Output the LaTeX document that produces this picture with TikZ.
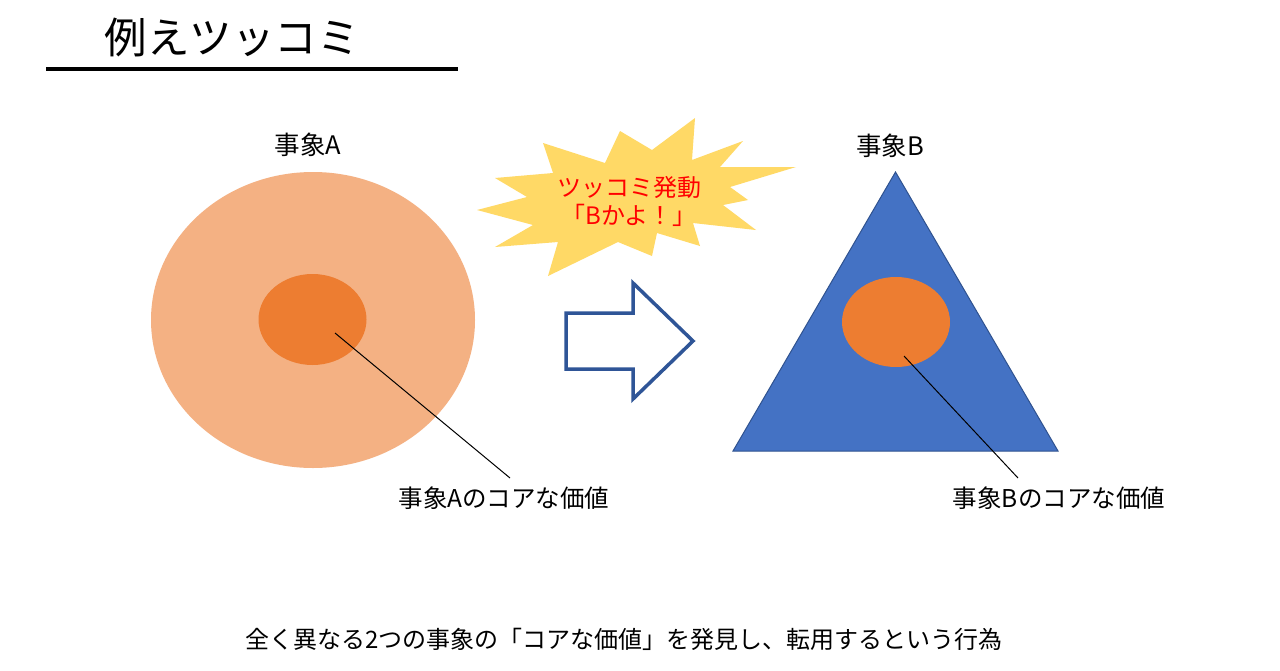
\documentclass[tikz,border=0pt]{standalone}
\usepackage{fontspec}
\setmainfont{Noto Sans CJK JP}
\usetikzlibrary{shapes.geometric}
\definecolor{outerA}{HTML}{F4B183}
\definecolor{core}{HTML}{ED7D31}
\definecolor{triB}{HTML}{4472C4}
\definecolor{triEdge}{HTML}{2F528F}
\definecolor{arrowEdge}{HTML}{2F5597}
\definecolor{burst}{HTML}{FFD966}
\tikzset{
  blob/.style={ellipse, inner sep=0pt, draw=none},
  lbl/.style={font=\fontsize{24.5}{28}\selectfont, inner sep=0pt, text=black},
  leader/.style={draw=black, line width=1pt},
}
\begin{document}
\begin{tikzpicture}[x=1pt,y=-1pt]
\useasboundingbox (0,0) rectangle (1280,670);
\fill[white] (0,0) rectangle (1280,670);
% title
\node[font=\fontsize{42.5}{48}\selectfont, inner sep=0pt] (title) at (232,37) {例えツッコミ};
\draw[line width=4pt] (46,69) -- (458,69);
% event A
\node[blob, fill=outerA, minimum width=324pt, minimum height=296pt] (outerA) at (313,320) {};
\node[blob, fill=core, minimum width=108pt, minimum height=91pt] (coreA) at (312.5,319.5) {};
\node[lbl, font=\fontsize{25.5}{28}\selectfont] (nameA) at (308,145) {事象A};
\coordinate (pA) at (335,333);
\node[lbl] (valA) at (504,498) {事象Aのコアな価値};
\draw[leader] (pA) -- (510,478);
% event B
\fill[triB, draw=triEdge, line width=1pt] (895.5,172) coordinate (apex) -- (1058,451) -- (733,451) -- cycle;
\node[blob, fill=core, minimum width=108pt, minimum height=90pt] (coreB) at (896,322) {};
\node[lbl, font=\fontsize{25.5}{28}\selectfont] (nameB) at (890,146) {事象B};
\coordinate (pB) at (904,356);
\node[lbl] (valB) at (1059,498) {事象Bのコアな価値};
\draw[leader] (pB) -- (1018,478);
% arrow
\draw[arrowEdge, fill=white, line width=3.5pt, line join=miter]
  (566,313) -- (633,313) -- (633,283) -- (693,341) -- (633,399) -- (633,369) -- (566,369) -- cycle;
% starburst
\fill[burst] (543,143) -- (605,163) -- (620,131) -- (652,150) -- (695,118) -- (692,160)
  -- (743,141) -- (720,167) -- (796,167) -- (730,187) -- (748,200) -- (723,205)
  -- (756,230) -- (693,223) -- (700,246) -- (657,233) -- (652,256) -- (618,242)
  -- (548,276) -- (558,242) -- (495,247) -- (533,225) -- (477,210) -- (527,197)
  -- (495,178) -- (553,173) -- cycle;
\node[font=\fontsize{24}{28}\selectfont, text=red, align=center, inner sep=0pt] (burstText) at (629,201) {ツッコミ発動\\「Bかよ！」};
% bottom caption
\node[lbl, font=\fontsize{24}{28}\selectfont] (caption) at (624,639) {全く異なる2つの事象の「コアな価値」を発見し、転用するという行為};
\end{tikzpicture}
\end{document}
